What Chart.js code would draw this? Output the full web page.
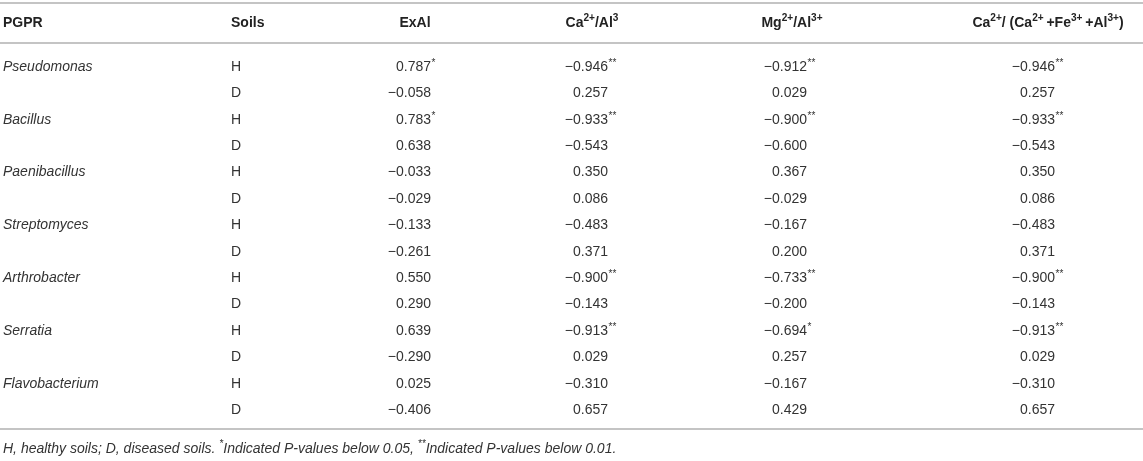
<!DOCTYPE html>
<html>
<head>
<meta charset="utf-8">
<script src="https://cdn.jsdelivr.net/npm/chart.js@4.4.1/dist/chart.umd.min.js"></script>
<style>
  html, body { margin: 0; padding: 0; background: #fff; }
  canvas { display: block; }
</style>
</head>
<body>
<canvas id="tbl" width="1143" height="461"></canvas>
<script>
// table content
const pgpr = ['Pseudomonas', 'Bacillus', 'Paenibacillus', 'Streptomyces', 'Arthrobacter', 'Serratia', 'Flavobacterium'];
const soils = ['H', 'D'];

const exAl      = [0.787, -0.058, 0.783, 0.638, -0.033, -0.029, -0.133, -0.261, 0.550, 0.290, 0.639, -0.290, 0.025, -0.406];
const exAlSig   = [1, 0, 1, 0, 0, 0, 0, 0, 0, 0, 0, 0, 0, 0];
const caAl      = [-0.946, 0.257, -0.933, -0.543, 0.350, 0.086, -0.483, 0.371, -0.900, -0.143, -0.913, 0.029, -0.310, 0.657];
const caAlSig   = [2, 0, 2, 0, 0, 0, 0, 0, 2, 0, 2, 0, 0, 0];
const mgAl      = [-0.912, 0.029, -0.900, -0.600, 0.367, -0.029, -0.167, 0.200, -0.733, -0.200, -0.694, 0.257, -0.167, 0.429];
const mgAlSig   = [2, 0, 2, 0, 0, 0, 0, 0, 2, 0, 1, 0, 0, 0];
const caRatio   = [-0.946, 0.257, -0.933, -0.543, 0.350, 0.086, -0.483, 0.371, -0.900, -0.143, -0.913, 0.029, -0.310, 0.657];
const caRatioSig = [2, 0, 2, 0, 0, 0, 0, 0, 2, 0, 2, 0, 0, 0];

// header pieces: [text, superscript?]
const headers = [
  [['PGPR']],
  [['Soils']],
  [['ExAl']],
  [['Ca'], ['2+', 1], ['/Al'], ['3', 1]],
  [['Mg'], ['2+', 1], ['/Al'], ['3+', 1]],
  [['Ca'], ['2+', 1], ['/ (Ca'], ['2+', 1], ['\u2009+Fe'], ['3+', 1], ['\u2009+Al'], ['3+', 1], [')']]
];
const footnote = [['H, healthy soils; D, diseased soils. '], ['*', 1], ['Indicated P-values below 0.05, '], ['**', 1], ['Indicated P-values below 0.01.']];

// layout (px on a 1143 x 461 sheet)
const colLeft = [3, 231];
const numCols = [
  { head: 415, digitsEnd: 431, vals: exAl, sig: exAlSig },
  { head: 592, digitsEnd: 608, vals: caAl, sig: caAlSig },
  { head: 792, digitsEnd: 807, vals: mgAl, sig: mgAlSig },
  { head: 1048, digitsEnd: 1055, vals: caRatio, sig: caRatioSig }
];
const headY = 23, firstRow = 67, rowStep = 26.4;
const rules = [3, 43, 429];
const footY = 449;

const FONT = '"Liberation Sans", Arial, Helvetica, sans-serif';
const ink = '#333';

const rowY = i => firstRow + i * rowStep;
const fmt = v => (v < 0 ? '\u2212' : '') + Math.abs(v).toFixed(3);

function partsWidth(ctx, parts, size, style) {
  let w = 0;
  parts.forEach(p => {
    ctx.font = style + ' ' + (p[1] ? size * 0.72 : size) + 'px ' + FONT;
    w += ctx.measureText(p[0]).width;
  });
  return w;
}

function drawParts(ctx, parts, x, y, align, size, style) {
  const w = partsWidth(ctx, parts, size, style);
  let cx = align === 'center' ? x - w / 2 : align === 'right' ? x - w : x;
  ctx.textAlign = 'left';
  ctx.textBaseline = 'middle';
  parts.forEach(p => {
    const s = p[1] ? size * 0.72 : size;
    ctx.font = style + ' ' + s + 'px ' + FONT;
    ctx.fillText(p[0], cx, p[1] ? y - size * 0.36 : y);
    cx += ctx.measureText(p[0]).width;
  });
}

const tablePlugin = {
  id: 'tablePlugin',
  afterDraw(chart) {
    const { ctx, scales: { x, y } } = chart;
    ctx.save();

    // rules
    ctx.strokeStyle = '#c4c4c4';
    ctx.lineWidth = 2;
    rules.forEach(r => {
      const py = Math.round(y.getPixelForValue(r));
      ctx.beginPath();
      ctx.moveTo(x.getPixelForValue(0), py);
      ctx.lineTo(x.getPixelForValue(1143), py);
      ctx.stroke();
    });

    ctx.fillStyle = '#222';
    const hy = y.getPixelForValue(headY);
    drawParts(ctx, headers[0], x.getPixelForValue(colLeft[0]), hy, 'left', 14, 'bold');
    drawParts(ctx, headers[1], x.getPixelForValue(colLeft[1]), hy, 'left', 14, 'bold');
    numCols.forEach((c, k) => {
      drawParts(ctx, headers[k + 2], x.getPixelForValue(c.head), hy, 'center', 14, 'bold');
    });

    ctx.fillStyle = ink;
    ctx.textBaseline = 'middle';
    // organism names and soil codes
    pgpr.forEach((name, g) => {
      ctx.font = 'italic 14px ' + FONT;
      ctx.textAlign = 'left';
      ctx.fillText(name, x.getPixelForValue(colLeft[0]), y.getPixelForValue(rowY(g * 2)));
      soils.forEach((s, j) => {
        ctx.font = '14px ' + FONT;
        ctx.fillText(s, x.getPixelForValue(colLeft[1]), y.getPixelForValue(rowY(g * 2 + j)));
      });
    });

    // correlation values, read from the plotted points
    chart.data.datasets.forEach((ds, k) => {
      const c = numCols[k];
      chart.getDatasetMeta(k).data.forEach((pt, i) => {
        ctx.font = '14px ' + FONT;
        ctx.textAlign = 'right';
        ctx.fillText(fmt(c.vals[i]), pt.x, pt.y);
        if (c.sig[i]) {
          ctx.font = '10px ' + FONT;
          ctx.textAlign = 'left';
          ctx.fillText('*'.repeat(c.sig[i]), pt.x + 0.5, pt.y - 4);
        }
      });
    });

    drawParts(ctx, footnote, x.getPixelForValue(colLeft[0]), y.getPixelForValue(footY), 'left', 14, 'italic');
    ctx.restore();
  }
};

new Chart(document.getElementById('tbl'), {
  type: 'scatter',
  data: {
    datasets: numCols.map(c => ({
      data: c.vals.map((v, i) => ({ x: c.digitsEnd, y: rowY(i) })),
      pointRadius: 0,
      pointHoverRadius: 0
    }))
  },
  options: {
    responsive: false,
    animation: false,
    devicePixelRatio: 1,
    layout: { padding: 0 },
    events: [],
    scales: {
      x: { type: 'linear', min: 0, max: 1143, display: false },
      y: { type: 'linear', min: 0, max: 461, reverse: true, display: false }
    },
    plugins: { legend: { display: false }, tooltip: { enabled: false } }
  },
  plugins: [tablePlugin]
});
</script>
</body>
</html>
